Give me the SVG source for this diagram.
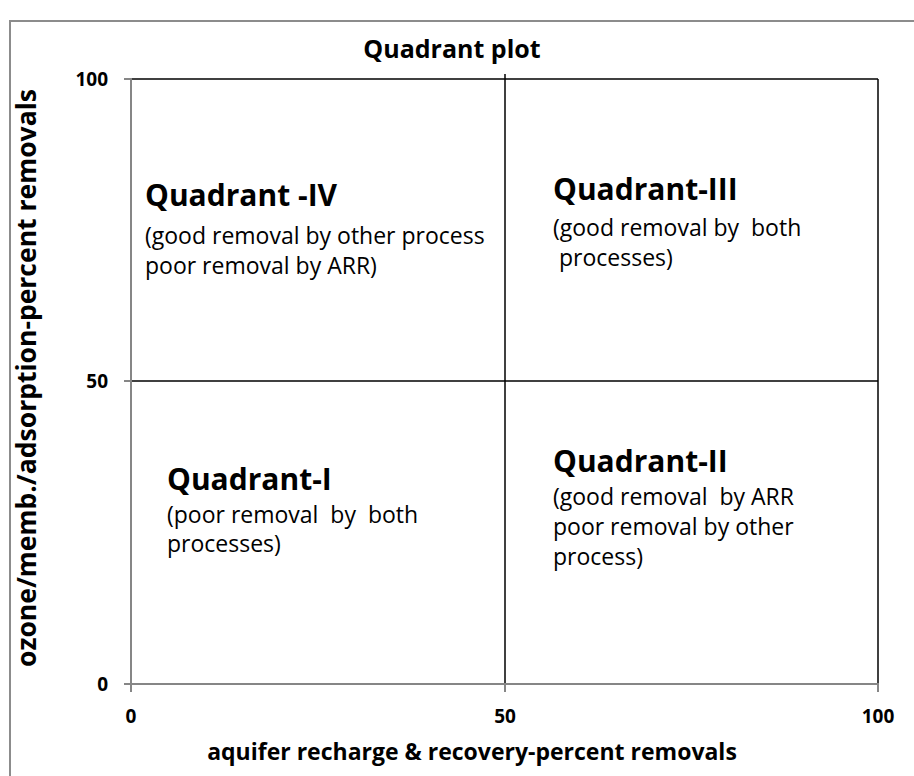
<svg xmlns="http://www.w3.org/2000/svg" width="914" height="776" viewBox="0 0 914 776">
  <style>
    .frame { fill: #ffffff; stroke: #8c8c8c; stroke-width: 2; }
    .axis { stroke: #868686; stroke-width: 2; fill: none; }
    .grid { stroke: #000000; stroke-width: 1.5; fill: none; }
    .title { font-family: "Open Sans", "Liberation Sans", sans-serif; font-weight: bold; font-size: 25px; fill: #000; }
    .tick { font-family: "Open Sans", "Liberation Sans", sans-serif; font-weight: bold; font-size: 19px; fill: #000; }
    .axtitle { font-family: "Open Sans", "Liberation Sans", sans-serif; font-weight: bold; font-size: 23px; fill: #000; }
    .ytitle { font-size: 26.5px; }
    .qhead { font-family: "Open Sans", "Liberation Sans", sans-serif; font-weight: bold; font-size: 30px; fill: #000; }
    .qbody { font-family: "Open Sans", "Liberation Sans", sans-serif; font-size: 23px; fill: #000; white-space: pre; }
  </style>

  <!-- chart area -->
  <rect class="frame" x="10" y="21" width="930" height="800"/>

  <text class="title" x="452" y="58" text-anchor="middle">Quadrant plot</text>

  <!-- plot lines -->
  <g id="connectors">
    <!-- top and right borders, quadrant dividers -->
    <line class="grid" x1="130" y1="79" x2="878" y2="79"/>
    <line class="grid" x1="878" y1="79" x2="878" y2="684"/>
    <line class="grid" x1="505" y1="74" x2="505" y2="684"/>
    <line class="grid" x1="130" y1="381" x2="878" y2="381"/>
    <!-- axes with tick marks -->
    <line class="axis" x1="131" y1="78" x2="131" y2="692"/>
    <line class="axis" x1="124" y1="684" x2="879" y2="684"/>
    <line class="axis" x1="124" y1="79" x2="131" y2="79"/>
    <line class="axis" x1="124" y1="381" x2="131" y2="381"/>
    <line class="axis" x1="505" y1="684" x2="505" y2="692"/>
    <line class="axis" x1="878" y1="684" x2="878" y2="692"/>
  </g>

  <!-- axis labels -->
  <g id="y-axis">
    <text class="tick" x="108" y="86" text-anchor="end">100</text>
    <text class="tick" x="108" y="388" text-anchor="end">50</text>
    <text class="tick" x="108" y="691" text-anchor="end">0</text>
    <text class="axtitle ytitle" transform="translate(36 378) rotate(-90)" text-anchor="middle">ozone/memb./adsorption-percent removals</text>
  </g>
  <g id="x-axis">
    <text class="tick" x="131" y="723" text-anchor="middle">0</text>
    <text class="tick" x="505" y="723" text-anchor="middle">50</text>
    <text class="tick" x="878" y="723" text-anchor="middle">100</text>
    <text class="axtitle" x="472" y="760" text-anchor="middle">aquifer recharge &amp; recovery-percent removals</text>
  </g>

  <!-- quadrant captions -->
  <g id="quadrant-IV">
    <text class="qhead" x="145" y="206">Quadrant -IV</text>
    <text class="qbody" x="145" y="244">(good removal by other process</text>
    <text class="qbody" x="145" y="274">poor removal by ARR)</text>
  </g>
  <g id="quadrant-III">
    <text class="qhead" x="553" y="200">Quadrant-III</text>
    <text class="qbody" x="553" y="236">(good removal by  both</text>
    <text class="qbody" x="553" y="266"> processes)</text>
  </g>
  <g id="quadrant-I">
    <text class="qhead" x="167" y="490">Quadrant-I</text>
    <text class="qbody" x="167" y="523">(poor removal  by  both</text>
    <text class="qbody" x="167" y="552">processes)</text>
  </g>
  <g id="quadrant-II">
    <text class="qhead" x="553" y="472">Quadrant-II</text>
    <text class="qbody" x="553" y="505">(good removal  by ARR</text>
    <text class="qbody" x="553" y="535">poor removal by other</text>
    <text class="qbody" x="553" y="565">process)</text>
  </g>
</svg>
